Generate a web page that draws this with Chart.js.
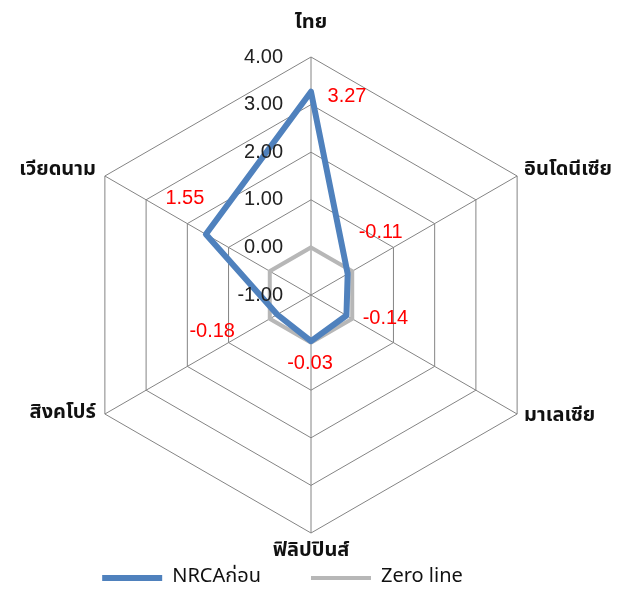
<!DOCTYPE html>
<html>
<head>
<meta charset="utf-8">
<script src="https://cdn.jsdelivr.net/npm/chart.js@4/dist/chart.umd.min.js"></script>
<style>
  html, body { margin: 0; padding: 0; background: #fff; }
  #wrap { width: 621px; height: 593px; }
</style>
</head>
<body>
<div id="wrap"><canvas id="radar"></canvas></div>
<script>
const countries = ['ไทย', 'อินโดนีเซีย', 'มาเลเซีย', 'ฟิลิปปินส์', 'สิงคโปร์', 'เวียดนาม'];
const nrca = [3.27, -0.11, -0.14, -0.03, -0.18, 1.55];
const zeroLine = [0, 0, 0, 0, 0, 0];
const scaleMin = -1;
const scaleMax = 4;

const thaiFont = '"Noto Sans Thai", "Noto Sans Thai UI", "Loma", "Garuda", "Noto Sans", sans-serif';
const numFont = '"Liberation Sans", Arial, sans-serif';

// where each country name sits next to its spoke tip
const nameAlign = ['center', 'left', 'left', 'center', 'right', 'right'];
const nameShift = [[0, -33], [7, -5], [7, 3], [0, 19], [-9, 0], [-9, -5]];
// where each red value sits next to its point
const valueShift = [[36, 5], [33, -41], [39, 3], [-1, 22], [-65, 17], [-21, -36]];

const labelPlugin = {
  id: 'radarLabels',
  afterDatasetsDraw(chart) {
    const r = chart.scales.r;
    const ctx = chart.ctx;
    ctx.save();
    ctx.textBaseline = 'middle';

    // scale values, left of the vertical spoke
    ctx.font = '20px ' + numFont;
    ctx.fillStyle = '#222';
    ctx.textAlign = 'right';
    r.ticks.forEach(t => {
      const d = r.getDistanceFromCenterForValue(t.value);
      ctx.fillText(t.label, r.xCenter - 28, r.yCenter - d);
    });

    // country names
    ctx.font = 'bold 20px ' + thaiFont;
    ctx.fillStyle = '#111';
    countries.forEach((name, i) => {
      const p = r.getPointPosition(i, r.drawingArea);
      ctx.textAlign = nameAlign[i];
      ctx.fillText(name, p.x + nameShift[i][0], p.y + nameShift[i][1]);
    });

    // values of the NRCA series
    const meta = chart.getDatasetMeta(0);
    ctx.font = '20px ' + numFont;
    ctx.fillStyle = '#ff0000';
    ctx.textAlign = 'center';
    meta.data.forEach((pt, i) => {
      ctx.fillText(nrca[i].toFixed(2), pt.x + valueShift[i][0], pt.y + valueShift[i][1]);
    });
    ctx.restore();
  }
};

const ctx = document.getElementById('radar').getContext('2d');
const chart = new Chart(ctx, {
  type: 'radar',
  data: {
    labels: countries,
    datasets: [{
      label: 'NRCAก่อน',
      data: nrca,
      borderColor: '#4f81bd',
      backgroundColor: 'rgba(0,0,0,0)',
      borderWidth: 6,
      borderCapStyle: 'round',
      borderJoinStyle: 'round',
      pointRadius: 0,
      pointStyle: 'line',
      fill: false,
      tension: 0
    }, {
      label: 'Zero line',
      data: zeroLine,
      borderColor: '#b7b7b7',
      backgroundColor: 'rgba(0,0,0,0)',
      borderWidth: 4,
      borderCapStyle: 'round',
      borderJoinStyle: 'miter',
      pointRadius: 0,
      pointStyle: 'line',
      fill: false,
      tension: 0
    }]
  },
  options: {
    responsive: true,
    maintainAspectRatio: false,
    animation: false,
    layout: { padding: { right: 56 } },
    plugins: {
      legend: {
        position: 'bottom',
        maxHeight: 75,
        labels: {
          usePointStyle: true,
          pointStyleWidth: 60,
          padding: 50,
          color: '#111',
          font: { size: 20, family: thaiFont }
        }
      },
      tooltip: { enabled: false }
    },
    scales: {
      r: {
        min: scaleMin,
        max: scaleMax,
        ticks: {
          stepSize: 1,
          display: false,
          callback: v => v.toFixed(2)
        },
        pointLabels: { display: false },
        grid: { color: '#848484', lineWidth: 1 },
        angleLines: { color: '#848484', lineWidth: 1 },
        afterFit(scale) {
          // centre and radius of the web
          scale.xCenter = 311;
          scale.yCenter = 295;
          scale.drawingArea = 238;
        }
      }
    }
  },
  plugins: [labelPlugin]
});
</script>
</body>
</html>
